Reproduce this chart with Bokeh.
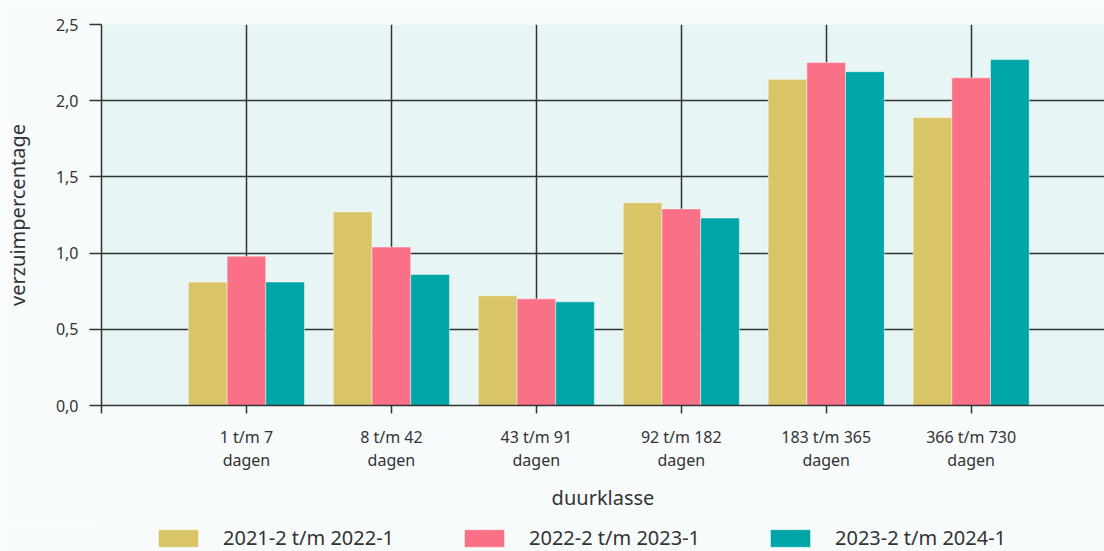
from bokeh.plotting import figure
from bokeh.models import Range1d, FixedTicker, Legend, LegendItem
from bokeh.layouts import column
from bokeh.embed import file_html
from bokeh.resources import INLINE

# ---- data ----
categories = ["1 t/m 7\ndagen", "8 t/m 42\ndagen", "43 t/m 91\ndagen",
              "92 t/m 182\ndagen", "183 t/m 365\ndagen", "366 t/m 730\ndagen"]
series_names = ["2021-2 t/m 2022-1", "2022-2 t/m 2023-1", "2023-2 t/m 2024-1"]
s_2021_2022 = [0.81, 1.27, 0.72, 1.33, 2.14, 1.89]
s_2022_2023 = [0.98, 1.04, 0.70, 1.29, 2.25, 2.15]
s_2023_2024 = [0.81, 0.86, 0.68, 1.23, 2.19, 2.27]
y_ticks = [0.0, 0.5, 1.0, 1.5, 2.0, 2.5]
y_tick_labels = ["0,0", "0,5", "1,0", "1,5", "2,0", "2,5"]

colors = ["#dac468", "#fa7087", "#00a5a7"]
FONT = "Noto Sans"
TXT = "#333333"
PAGE_BG = "#f7fbfc"

p = figure(width=1104, height=524, output_backend="svg", toolbar_location=None,
           x_range=Range1d(0, 6.92), y_range=Range1d(0, 2.5),
           min_border_left=100, min_border_right=0, min_border_top=24,
           min_border_bottom=119)
p.border_fill_color = PAGE_BG
p.background_fill_color = "#e8f5f5"
p.outline_line_color = None

xs = [i + 1 for i in range(len(categories))]
bw = 0.267
series = [s_2021_2022, s_2022_2023, s_2023_2024]
for k, vals in enumerate(series):
    off = (k - 1) * bw
    p.vbar(x=[x + off for x in xs], top=vals, width=bw, bottom=0,
           fill_color=colors[k], line_color="white", line_alpha=0.45, line_width=1)

# axes
p.xaxis.ticker = FixedTicker(ticks=[0] + xs)
p.xaxis.major_label_overrides = {0: ""} | {x: c for x, c in zip(xs, categories)}
p.yaxis.ticker = FixedTicker(ticks=y_ticks)
p.yaxis.major_label_overrides = {t: l for t, l in zip(y_ticks, y_tick_labels)}

for ax in (p.xaxis[0], p.yaxis[0]):
    ax.axis_line_color = TXT
    ax.axis_line_width = 1.5
    ax.major_tick_line_color = TXT
    ax.major_tick_line_width = 1.5
    ax.major_tick_in = 0
    ax.minor_tick_line_color = None
    ax.major_label_text_font = FONT
    ax.major_label_text_font_size = "16px"
    ax.major_label_text_color = TXT
    ax.axis_label_text_font = FONT
    ax.axis_label_text_font_size = "20px"
    ax.axis_label_text_font_style = "normal"
    ax.axis_label_text_color = TXT

p.xaxis.major_tick_out = 8
p.xaxis.major_label_standoff = 12
p.xaxis.major_label_text_line_height = 1.05
p.xaxis.axis_label = "duurklasse"
p.xaxis.axis_label_standoff = 10

p.yaxis.major_tick_out = 12
p.yaxis.major_label_standoff = 11
p.yaxis.axis_label = "verzuimpercentage"
p.yaxis.axis_label_standoff = 22

p.xgrid.grid_line_color = TXT
p.xgrid.grid_line_width = 1.5
p.ygrid.grid_line_color = TXT
p.ygrid.grid_line_width = 1.5

# ---- legend strip (frame aligned with main plot frame by the column layout) ----
lg = figure(width=1104, height=27, output_backend="svg", toolbar_location=None,
            x_range=Range1d(0, 6.92), y_range=Range1d(10, 11), min_border=0)
lg.border_fill_color = PAGE_BG
lg.background_fill_color = PAGE_BG
lg.outline_line_color = None
lg.axis.visible = False
lg.grid.visible = False
lrs = []
for k, vals in enumerate(series):
    off = (k - 1) * bw
    lrs.append(lg.vbar(x=[x + off for x in xs], top=vals, width=bw, bottom=0,
                       fill_color=colors[k], line_color="white", line_alpha=0.45, line_width=1))
legend = Legend(items=[LegendItem(label=n, renderers=[r]) for n, r in zip(series_names, lrs)],
                orientation="horizontal", location=(52, 0), padding=0, margin=0, spacing=0,
                glyph_width=50, glyph_height=22, label_width=236, label_height=22,
                label_standoff=20, label_text_font=FONT, label_text_font_size="20px",
                label_text_line_height=0.8,
                label_text_color=TXT, background_fill_alpha=0, border_line_color=None)
lg.add_layout(legend, "center")

open("out.html", "w").write(file_html(column(p, lg, spacing=0), INLINE))
